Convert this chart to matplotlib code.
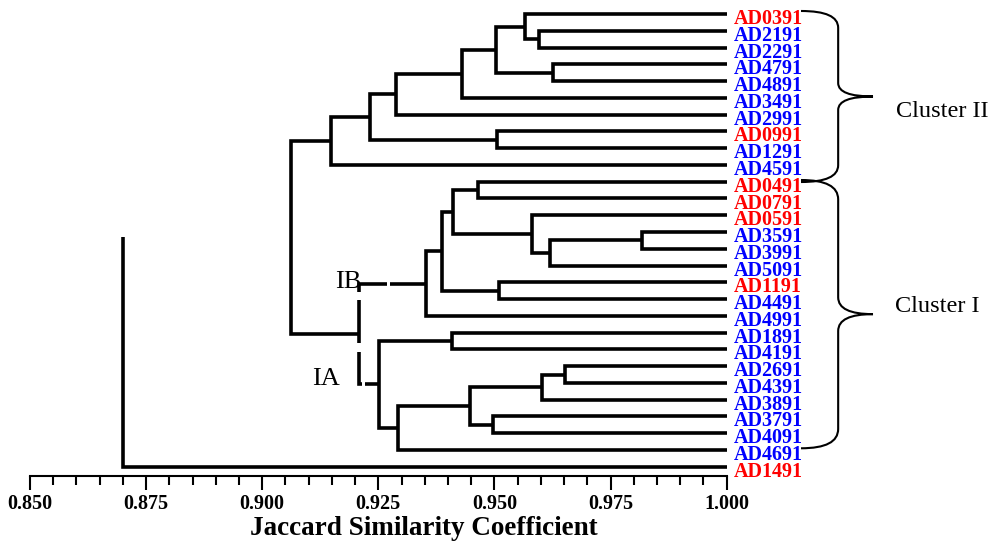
import matplotlib
matplotlib.use("Agg")
import matplotlib.pyplot as plt
from matplotlib.path import Path
from matplotlib.patches import PathPatch
from matplotlib.ticker import MultipleLocator, FormatStrFormatter

plt.rcParams['font.family'] = ['Liberation Serif', 'DejaVu Serif']

# leaf order, top to bottom
leaves = ["AD0391", "AD2191", "AD2291", "AD4791", "AD4891", "AD3491", "AD2991",
          "AD0991", "AD1291", "AD4591", "AD0491", "AD0791", "AD0591", "AD3591",
          "AD3991", "AD5091", "AD1191", "AD4491", "AD4991", "AD1891", "AD4191",
          "AD2691", "AD4391", "AD3891", "AD3791", "AD4091", "AD4691", "AD1491"]
red_leaves = ["AD0391", "AD0991", "AD0491", "AD0791", "AD0591", "AD1191", "AD1491"]

# merges: (child a, child b, similarity); merge k becomes node "n{k}"
merges = [
    ("AD2191", "AD2291", 0.9596),   # n0
    ("AD0391", "n0", 0.9565),       # n1
    ("AD4791", "AD4891", 0.9626),   # n2
    ("n1", "n2", 0.9504),           # n3
    ("n3", "AD3491", 0.9431),       # n4
    ("n4", "AD2991", 0.9288),       # n5
    ("AD0991", "AD1291", 0.9506),   # n6
    ("n5", "n6", 0.9233),           # n7
    ("n7", "AD4591", 0.9148),       # n8  cluster II
    ("AD0491", "AD0791", 0.9465),   # n9
    ("AD3591", "AD3991", 0.9818),   # n10
    ("n10", "AD5091", 0.9619),      # n11
    ("AD0591", "n11", 0.9581),      # n12
    ("n9", "n12", 0.9410),          # n13
    ("AD1191", "AD4491", 0.9509),   # n14
    ("n13", "n14", 0.9387),         # n15
    ("n15", "AD4991", 0.9352),      # n16  IB
    ("AD1891", "AD4191", 0.9409),   # n17
    ("AD2691", "AD4391", 0.9651),   # n18
    ("n18", "AD3891", 0.9603),      # n19
    ("AD3791", "AD4091", 0.9497),   # n20
    ("n19", "n20", 0.9448),         # n21
    ("n21", "AD4691", 0.9293),      # n22
    ("n17", "n22", 0.9251),         # n23  IA
    ("n16", "n23", 0.9208),         # n24  cluster I
    ("n8", "n24", 0.9063),          # n25
    ("n25", "AD1491", 0.8700),      # n26
]
missing_link = "n25"   # the original figure has no stub from n25 to the last merge

fig = plt.figure(figsize=(9.89, 5.41), dpi=100)
ax = fig.add_axes([30 / 989, 0.1196, 696.7 / 989, 0.8804])

pos = {}
for i, name in enumerate(leaves):
    pos[name] = (1.0, i)

for k, (a, b, h) in enumerate(merges):
    xa, ya = pos[a]
    xb, yb = pos[b]
    if a == missing_link:
        xs, ys = [h, h, xb], [ya, yb, yb]
    else:
        xs, ys = [xa, h, h, xb], [ya, ya, yb, yb]
    ax.plot(xs, ys, color='black', lw=2.6, solid_joinstyle='miter',
            solid_capstyle='butt', zorder=2)
    pos[f"n{k}"] = (h, (ya + yb) / 2)

# small white breaks in the IA / IB connectors, as in the original
hb, yb_ = pos["n24"][0], pos["n16"][1]
ya_ = pos["n23"][1]
breaks = [
    ([0.9268, 0.9276], [yb_, yb_]),
    ([hb, hb], [yb_ + 0.48, yb_ + 0.97]),
    ([hb, hb], [pos["n24"][1] + 0.53, pos["n24"][1] + 1.06]),
    ([0.9214, 0.9221], [ya_, ya_]),
]
for bx, by in breaks:
    ax.plot(bx, by, color='white', lw=4, solid_capstyle='butt', zorder=3)

ax.text(0.9214, yb_ + 0.25, "IB", fontsize=19, ha='right', va='baseline', zorder=1)
ax.text(0.9167, ya_ + 0.02, "IA", fontsize=19, ha='right', va='baseline', zorder=1)

# leaf labels
for i, name in enumerate(leaves):
    ax.text(1.0015, i + 0.6, name, color='red' if name in red_leaves else 'blue',
            fontsize=14.5, fontweight='bold', ha='left', va='baseline', clip_on=False)


def brace(x0, xm, xt, y0, y1, r_end, r_tip):
    ym = (y0 + y1) / 2
    verts = [(x0, y0), (xm, y0), (xm, y0 + r_end), (xm, ym - r_tip), (xm, ym), (xt, ym),
             (xm, ym), (xm, ym + r_tip), (xm, y1 - r_end), (xm, y1), (x0, y1)]
    codes = [Path.MOVETO, Path.CURVE3, Path.CURVE3, Path.LINETO, Path.CURVE3, Path.CURVE3,
             Path.CURVE3, Path.CURVE3, Path.LINETO, Path.CURVE3, Path.CURVE3]
    ax.add_patch(PathPatch(Path(verts, codes), fill=False, lw=1.5, color='black', clip_on=False))


brace(1.0160, 1.0240, 1.0315, -0.18, 10.02, 1.0, 0.8)
brace(1.0160, 1.0240, 1.0315, 9.9, 25.9, 1.15, 1.0)
ax.text(1.0364, 6.17, "Cluster II", fontsize=17.5, ha='left', va='baseline', clip_on=False)
ax.text(1.0362, 17.77, "Cluster I", fontsize=17.5, ha='left', va='baseline', clip_on=False)

ax.set_xlim(0.85, 1.0)
ax.set_ylim(27.57, -0.835)
for side in ['top', 'right', 'left']:
    ax.spines[side].set_visible(False)
ax.spines['bottom'].set_linewidth(1.5)
ax.set_yticks([])
ax.xaxis.set_major_locator(MultipleLocator(0.025))
ax.xaxis.set_minor_locator(MultipleLocator(0.005))
ax.xaxis.set_major_formatter(FormatStrFormatter('%.3f'))
ax.tick_params(axis='x', which='major', length=9.9, width=1.5, pad=2.5)
ax.tick_params(axis='x', which='minor', length=6.3, width=1.5)
for lab in ax.get_xticklabels():
    lab.set_fontweight('bold')
    lab.set_fontsize(14.5)

fig.text(423.7 / 989, 6 / 541, "Jaccard Similarity Coefficient", fontsize=19.5,
         fontweight='bold', ha='center', va='baseline')

fig.savefig("out.png", dpi=100)
